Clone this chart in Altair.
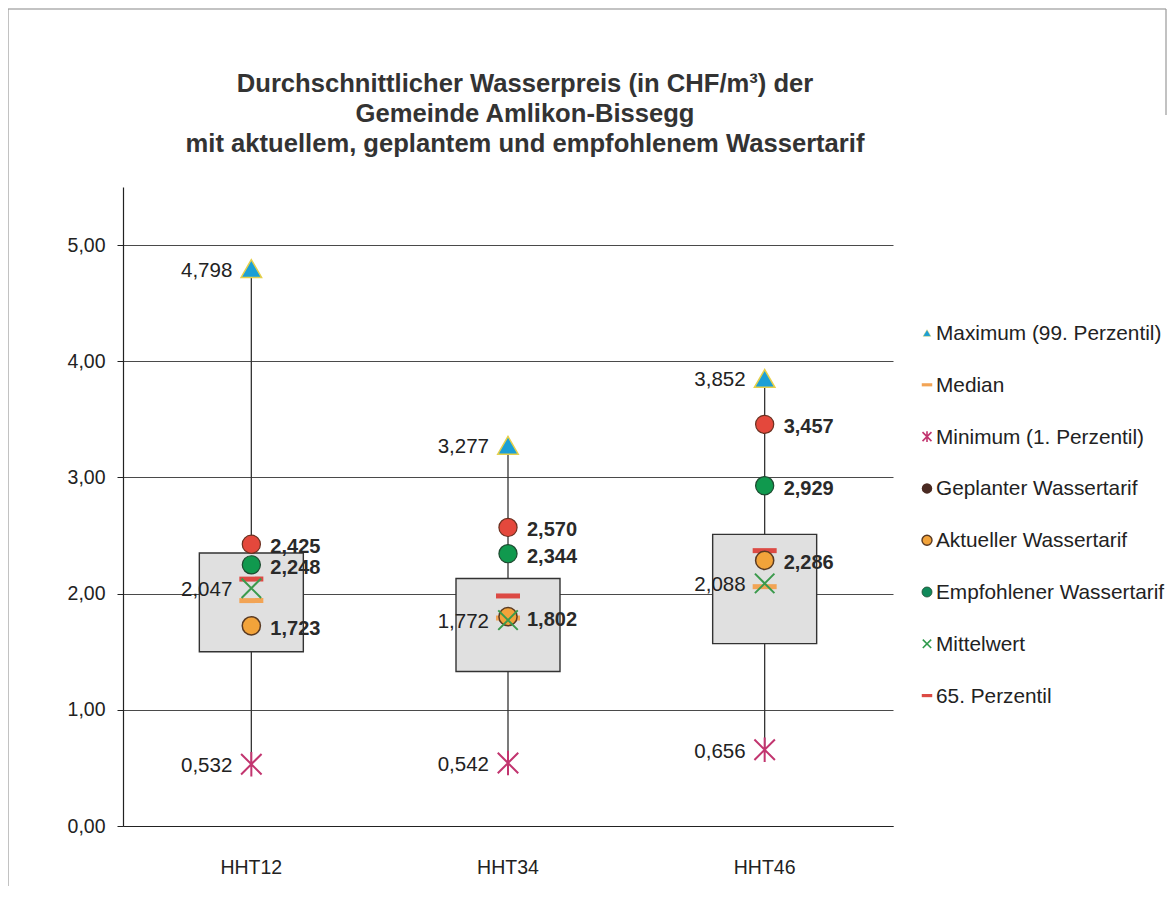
import altair as alt
import pandas as pd

# ---------------- data ----------------
categories = ["HHT12", "HHT34", "HHT46"]
maximum = [4.798, 3.277, 3.852]
minimum = [0.532, 0.542, 0.656]
geplant = [2.425, 2.570, 3.457]
empfohlen = [2.248, 2.344, 2.929]
aktuell = [1.723, 1.802, 2.286]
mittelwert = [2.047, 1.772, 2.088]
median = [1.94, 1.79, 2.06]
perzentil65 = [2.125, 1.98, 2.37]
box_unten = [1.50, 1.33, 1.57]
box_oben = [2.35, 2.13, 2.51]

y_ticks = [0, 1, 2, 3, 4, 5]
title_lines = [
    "Durchschnittlicher Wasserpreis (in CHF/m³) der",
    "Gemeinde Amlikon-Bissegg",
    "mit aktuellem, geplantem und empfohlenem Wassertarif",
]
legend_labels = [
    "Maximum (99. Perzentil)",
    "Median",
    "Minimum (1. Perzentil)",
    "Geplanter Wassertarif",
    "Aktueller Wassertarif",
    "Empfohlener Wassertarif",
    "Mittelwert",
    "65. Perzentil",
]

df = pd.DataFrame({
    "Kategorie": categories,
    "Maximum": maximum,
    "Minimum": minimum,
    "Geplant": geplant,
    "Empfohlen": empfohlen,
    "Aktuell": aktuell,
    "Mittelwert": mittelwert,
    "Median": median,
    "P65": perzentil65,
    "BoxUnten": box_unten,
    "BoxOben": box_oben,
})

FONT = "Liberation Sans"
W, H = 770, 639

yscale = alt.Scale(domain=[0, 5.5], nice=False, zero=True)
yaxis = alt.Axis(
    values=y_ticks,
    labelExpr="replace(format(datum.value, '.2f'), '.', ',')",
    grid=True, gridColor="#4a4a4a", gridWidth=1,
    domainColor="#222", domainWidth=1.2,
    tickColor="#222", tickSize=6,
    labelFontSize=19.5, labelFont=FONT, labelColor="#222", labelPadding=12,
    title=None,
)
xaxis = alt.Axis(
    labelAngle=0, ticks=False, tickSize=0, labelPadding=32,
    labelFontSize=19.5, labelFont=FONT, labelColor="#222",
    domainColor="#222", domainWidth=1.2, grid=False, title=None,
)
X = alt.X("Kategorie:N", scale=alt.Scale(domain=categories, paddingInner=0, paddingOuter=0), axis=xaxis)


def Y(field):
    return alt.Y(field, type="quantitative", scale=yscale, axis=yaxis, title=None)


base = alt.Chart(df).encode(x=X)

whisker = base.mark_rule(color="#333", strokeWidth=1.3).encode(y=Y("Minimum"), y2="Maximum")
box = base.mark_bar(size=104, color="#e0e0e0", stroke="#333", strokeWidth=1.4).encode(
    y=Y("BoxUnten"), y2="BoxOben")
med = base.mark_tick(color="#f2a455", size=24, thickness=5, opacity=1).encode(y=Y("Median"))
p65 = base.mark_tick(color="#dc4a44", size=24, thickness=5, opacity=1).encode(y=Y("P65"))

xpath = "M-1,-1L1,1M-1,1L1,-1"
astpath = "M-1,-1L1,1M-1,1L1,-1M0,-1.2L0,1.2"

mx = base.mark_point(shape="triangle-up", size=420, filled=True, fill="#1b9fd6",
                     stroke="#e6d04a", strokeWidth=1.5, opacity=1).encode(y=Y("Maximum"))
mn = base.mark_point(shape=astpath, size=420, filled=False, stroke="#c2356f",
                     strokeWidth=2, opacity=1).encode(y=Y("Minimum"))
gp = base.mark_point(shape="circle", size=330, filled=True, fill="#e4483c",
                     stroke="#6a3020", strokeWidth=1.2, opacity=1).encode(y=Y("Geplant"))
em = base.mark_point(shape="circle", size=330, filled=True, fill="#10994e",
                     stroke="#1d4a30", strokeWidth=1.2, opacity=1).encode(y=Y("Empfohlen"))
ak = base.mark_point(shape="circle", size=330, filled=True, fill="#f2a33a",
                     stroke="#5a3a22", strokeWidth=1.5, opacity=1).encode(y=Y("Aktuell"))
mw = base.mark_point(shape=xpath, size=380, filled=False, stroke="#3b9a4c",
                     strokeWidth=2, opacity=1).encode(y=Y("Mittelwert"))

fmt = "replace(format(datum.wert, '.3f'), '.', ',')"
lab_left = base.transform_fold(["Maximum", "Minimum", "Mittelwert"], as_=["serie", "wert"]).transform_calculate(
    lbl=fmt).mark_text(align="right", baseline="middle", dx=-19, dy=2, fontSize=20.5, font=FONT,
                       color="#222").encode(y=Y("wert"), text="lbl:N")
lab_right = base.transform_fold(["Geplant", "Empfohlen", "Aktuell"], as_=["serie", "wert"]).transform_calculate(
    lbl=fmt).mark_text(align="left", baseline="middle", dx=19, dy=3, fontSize=20, font=FONT,
                       fontWeight="bold", color="#2a2a2a").encode(y=Y("wert"), text="lbl:N")

# ---------------- title ----------------
title_layers = []
for i, line in enumerate(title_lines):
    title_layers.append(
        alt.Chart(pd.DataFrame({"t": [line]})).mark_text(
            fontSize=25.6, font=FONT, fontWeight="bold", color="#333", baseline="middle", align="center"
        ).encode(x=alt.value(402), y=alt.value(-103 + 30 * i), text="t:N")
    )

# ---------------- legend ----------------
leg_styles = [
    dict(shape="triangle-up", size=60, filled=True, fill="#1b9fd6", stroke="#e6d04a", strokeWidth=0.4),
    dict(shape="M-1,-0.3L1,-0.3L1,0.3L-1,0.3Z", size=110, filled=True, fill="#f2a455", strokeWidth=0),
    dict(shape=astpath, size=80, filled=False, stroke="#c2356f", strokeWidth=1.6),
    dict(shape="circle", size=110, filled=True, fill="#4a2a22", strokeWidth=0),
    dict(shape="circle", size=100, filled=True, fill="#f2a33a", stroke="#5a3a22", strokeWidth=1.4),
    dict(shape="circle", size=100, filled=True, fill="#10895a", stroke="#1d4a30", strokeWidth=0.8),
    dict(shape=xpath, size=70, filled=False, stroke="#2f9a4c", strokeWidth=1.6),
    dict(shape="M-1,-0.3L1,-0.3L1,0.3L-1,0.3Z", size=110, filled=True, fill="#dc4a44", strokeWidth=0),
]
legend_layers = []
for i, lab in enumerate(legend_labels):
    yy = 146 + 51.8 * i
    ldf = pd.DataFrame({"t": [lab]})
    legend_layers.append(
        alt.Chart(ldf).mark_point(opacity=1, **leg_styles[i]).encode(x=alt.value(804), y=alt.value(yy))
    )
    legend_layers.append(
        alt.Chart(ldf).mark_text(align="left", baseline="middle", fontSize=20.8, font=FONT, color="#222")
        .encode(x=alt.value(813), y=alt.value(yy + 1), text="t:N")
    )

# ---------------- outer frame ----------------
frame_df = pd.DataFrame({"k": [0]})
frame = [
    alt.Chart(frame_df).mark_rule(color="#888", strokeWidth=1.2).encode(
        x=alt.value(-115), x2=alt.value(1043), y=alt.value(-178)),
    alt.Chart(frame_df).mark_rule(color="#999", strokeWidth=1.2).encode(
        x=alt.value(-115), y=alt.value(-178), y2=alt.value(H + 70)),
    alt.Chart(frame_df).mark_rule(color="#999", strokeWidth=1.2).encode(
        x=alt.value(1043), y=alt.value(-178), y2=alt.value(-72)),
]

chart = alt.layer(
    whisker, box, med, p65, mx, mn, gp, em, ak, mw, lab_left, lab_right,
    *title_layers, *legend_layers, *frame,
).properties(
    width=W, height=H,
    background="white",
    autosize=alt.AutoSizeParams(type="none"),
    padding={"left": 115, "top": 179, "right": 274, "bottom": 60},
).configure_view(strokeWidth=0, stroke="transparent")

chart.save("out.html", embed_options={"renderer": "svg", "actions": False})
